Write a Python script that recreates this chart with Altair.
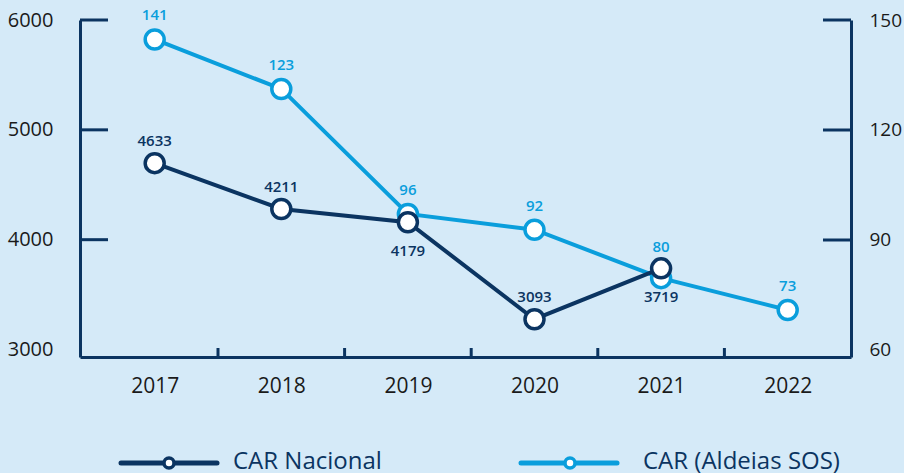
import altair as alt
import pandas as pd

# ---- data ----
years_nac = [2017, 2018, 2019, 2020, 2021]
nacional_plotted = [4697, 4280, 4159, 3276, 3739]
nacional_labels = ["4633", "4211", "4179", "3093", "3719"]
nacional_label_below = [False, False, True, False, True]

years_sos = [2017, 2018, 2019, 2020, 2021, 2022]
sos_plotted = [144.7, 131.2, 97.1, 92.8, 79.6, 70.9]
sos_labels = ["141", "123", "96", "92", "80", "73"]
sos_label_raised = [False, False, False, False, True, False]

left_ticks = [4000, 5000, 6000]
left_tick_labels = [3000, 4000, 5000, 6000]
right_ticks = [90, 120, 150]
right_tick_labels = [60, 90, 120, 150]
x_years = [2017, 2018, 2019, 2020, 2021, 2022]
x_between = [2017.5, 2018.5, 2019.5, 2020.5, 2021.5]
legend_labels = ["CAR Nacional", "CAR (Aldeias SOS)"]

NAVY = "#0B3461"
LIGHT = "#0A9EDC"
BG = "#D5EAF8"
TXT = "#1A1A1A"
FONT = "Open Sans"

W, H = 771, 337

nac = pd.DataFrame({"year": years_nac, "value": nacional_plotted,
                    "label": nacional_labels, "below": nacional_label_below})
sos = pd.DataFrame({"year": years_sos, "value": sos_plotted, "label": sos_labels,
                    "raised": sos_label_raised})
lt = pd.DataFrame({"value": left_ticks})
rt = pd.DataFrame({"value": right_ticks})
xt = pd.DataFrame({"year": x_between})
one = pd.DataFrame({"k": [0]})

x_enc = alt.X("year:Q",
              scale=alt.Scale(domain=[2016.41, 2022.5], nice=False, zero=False),
              axis=alt.Axis(values=x_years, format="d", title=None, grid=False,
                            ticks=False, domainColor=NAVY, domainWidth=3,
                            labelFont=FONT, labelFontSize=21, labelColor=TXT,
                            labelPadding=18, labelFlush=False))

y_left = alt.Y("value:Q",
               scale=alt.Scale(domain=[2932, 6000], nice=False, zero=False),
               axis=alt.Axis(values=left_tick_labels, format="d", title=None, grid=False,
                             ticks=False, domainColor=NAVY, domainWidth=3,
                             labelFont=FONT, labelFontSize=20, labelColor=TXT,
                             labelPadding=27, orient="left"))

y_right = alt.Y("value:Q",
                scale=alt.Scale(domain=[58.09, 150], nice=False, zero=False),
                axis=alt.Axis(values=right_tick_labels, format="d", title=None, grid=False,
                              ticks=False, domainColor=NAVY, domainWidth=3,
                              labelFont=FONT, labelFontSize=19, labelColor=TXT,
                              labelPadding=18, orient="right"))

# ---- left (CAR Nacional) group ----
nac_line = alt.Chart(nac).mark_line(color=NAVY, strokeWidth=4).encode(x=x_enc, y=y_left)
nac_pts = alt.Chart(nac).mark_point(shape="circle", filled=True, fill="white",
                                    stroke=NAVY, strokeWidth=3.5, size=361,
                                    opacity=1).encode(x=x_enc, y=y_left)
nac_above = alt.Chart(nac).transform_filter("!datum.below").mark_text(
    font=FONT, fontSize=15, fontWeight=600, color=NAVY, dy=-22, baseline="middle"
).encode(x=x_enc, y=y_left, text="label:N")
nac_below = alt.Chart(nac).transform_filter("datum.below").mark_text(
    font=FONT, fontSize=15, fontWeight=600, color=NAVY, dy=29, baseline="middle"
).encode(x=x_enc, y=y_left, text="label:N")
lt_rules = alt.Chart(lt).mark_rule(color=NAVY, strokeWidth=3).encode(
    y=y_left, x=alt.value(0), x2=alt.value(28))
xt_rules = alt.Chart(xt).mark_rule(color=NAVY, strokeWidth=3).encode(
    x=x_enc, y=alt.value(H), y2=alt.value(H - 9))

LY = 449
leg1_line = alt.Chart(one).mark_rule(color=NAVY, strokeWidth=5, strokeCap="round").encode(
    x=alt.value(41), x2=alt.value(137), y=alt.value(443))
leg1_pt = alt.Chart(one).mark_point(shape="circle", filled=True, fill="white", stroke=NAVY,
                                    strokeWidth=3.5, size=100, opacity=1).encode(
    x=alt.value(89), y=alt.value(443))
leg1_txt = alt.Chart(one).mark_text(font=FONT, fontSize=24, color=NAVY, align="left",
                                    baseline="alphabetic").encode(
    x=alt.value(153), y=alt.value(LY), text=alt.value(legend_labels[0]))

left_group = alt.layer(lt_rules, xt_rules, nac_line, nac_pts, nac_above, nac_below,
                       leg1_line, leg1_pt, leg1_txt)

# ---- right (CAR Aldeias SOS) group ----
sos_line = alt.Chart(sos).mark_line(color=LIGHT, strokeWidth=4).encode(x=x_enc, y=y_right)
sos_pts = alt.Chart(sos).mark_point(shape="circle", filled=True, fill="white",
                                    stroke=LIGHT, strokeWidth=3.5, size=361,
                                    opacity=1).encode(x=x_enc, y=y_right)
sos_txt = alt.Chart(sos).transform_filter("!datum.raised").mark_text(
    font=FONT, fontSize=15, fontWeight=600, color=LIGHT, dy=-24, baseline="middle"
).encode(x=x_enc, y=y_right, text="label:N")
sos_txt_hi = alt.Chart(sos).transform_filter("datum.raised").mark_text(
    font=FONT, fontSize=15, fontWeight=600, color=LIGHT, dy=-31, baseline="middle"
).encode(x=x_enc, y=y_right, text="label:N")
rt_rules = alt.Chart(rt).mark_rule(color=NAVY, strokeWidth=3).encode(
    y=y_right, x=alt.value(W - 28), x2=alt.value(W))

leg2_line = alt.Chart(one).mark_rule(color=LIGHT, strokeWidth=5, strokeCap="round").encode(
    x=alt.value(441), x2=alt.value(537), y=alt.value(443))
leg2_pt = alt.Chart(one).mark_point(shape="circle", filled=True, fill="white", stroke=LIGHT,
                                    strokeWidth=3.5, size=100, opacity=1).encode(
    x=alt.value(490), y=alt.value(443))
leg2_txt = alt.Chart(one).mark_text(font=FONT, fontSize=24, color=NAVY, align="left",
                                    baseline="alphabetic").encode(
    x=alt.value(563), y=alt.value(LY), text=alt.value(legend_labels[1]))

right_group = alt.layer(rt_rules, sos_line, sos_pts, sos_txt, sos_txt_hi,
                        leg2_line, leg2_pt, leg2_txt)

chart = alt.layer(right_group, left_group).resolve_scale(y="independent").properties(
    width=W, height=H,
    autosize=alt.AutoSizeParams(type="none"),
    padding={"left": 80, "top": 20, "right": 53, "bottom": 116},
    background=BG,
).configure_view(strokeWidth=0)

chart.save("out.html", embed_options={"renderer": "svg", "actions": False})
